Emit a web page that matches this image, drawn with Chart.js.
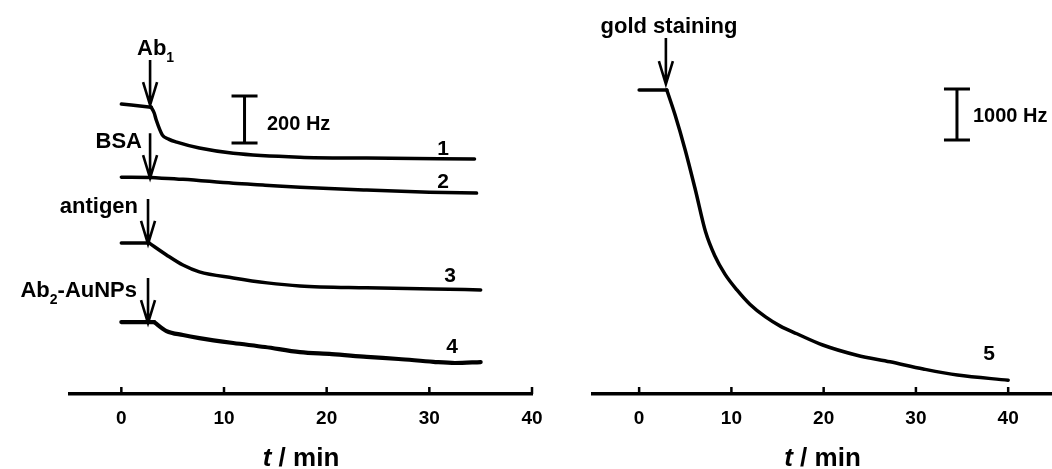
<!DOCTYPE html>
<html>
<head>
<meta charset="utf-8">
<script src="https://cdn.jsdelivr.net/npm/chart.js@4.4.1/dist/chart.umd.min.js"></script>
<style>
    body { margin: 0; background: #fff; }
    #wrap { position: relative; width: 1052px; height: 469px; overflow: hidden; }
    canvas { position: absolute; top: 0; }
</style>
</head>
<body>
<div id="wrap">
    <canvas id="leftChart" width="560" height="469" style="left:0"></canvas>
    <canvas id="rightChart" width="492" height="469" style="left:560px"></canvas>
</div>
<script>
const fuente = "'Liberation Sans', Arial, Helvetica, sans-serif";

// Marcas del eje de tiempo (min)
const xTicks = [0, 10, 20, 30, 40];

// Panel izquierdo: desplazamiento de frecuencia (Hz) frente al tiempo (min)
const t1 = [0, 2.9, 3.2, 3.4, 4.0, 4.6, 5.4, 7.6, 10.9, 17.4, 23.9, 34.4];
const df1 = [0, -13, -38, -68, -132, -149, -162, -187, -209, -226, -230, -234];

const t2 = [0, 2.9, 6.0, 10.9, 14.0, 17.4, 23.9, 30.0, 34.6];
const df2 = [0, -2, -9, -26, -34, -43, -55, -64, -68];

const t3 = [0, 2.7, 4.4, 6.0, 7.6, 10.9, 14.2, 17.4, 23.9, 30.4, 35.0];
const df3 = [0, 0, -51, -94, -123, -149, -170, -183, -191, -196, -200];

const t4 = [0, 3.2, 4.4, 6.0, 7.6, 10.9, 14.0, 17.4, 20.5, 23.9, 27.0, 30.4, 32.5, 35.0];
const df4 = [0, 0, -38, -55, -68, -89, -106, -128, -136, -148, -157, -169, -174, -170];

const curveNames = ['1', '2', '3', '4'];
const curveOffsets = [0, -311, -591, -928];   // separación vertical entre curvas (Hz)
const injectTimes = [2.8, 2.8, 2.6, 2.6];     // momento de cada inyección (min)

// Panel derecho: tinción con oro
const t5 = [0, 3.0, 3.9, 5.0, 6.1, 7.2, 8.2, 9.3, 10.6, 12.0, 13.7, 15.3, 17.1, 19.9, 23.6, 27.2, 30.8, 34.5, 40];
const df5 = [0, 0, -490, -1180, -1960, -2780, -3250, -3610, -3920, -4200, -4450, -4630, -4780, -5000, -5200, -5330, -5470, -5590, -5690];
const injectTime5 = 2.9;

// Barras de escala (Hz)
const scaleBarLeft = 200;
const scaleBarRight = 1000;

function toPoints(ts, ys, offset) {
    return ts.map(function (t, i) { return { x: t, y: ys[i] + offset }; });
}

// Parte la curva en el punto de inyección para dejar la esquina marcada
function splitAt(points, k) {
    return [points.slice(0, k + 1), points.slice(k)];
}

// Dibuja texto con subíndices: parts = [[texto, esSubindice], ...]
function drawRich(ctx, parts, x, y, size, align) {
    let total = 0;
    parts.forEach(function (p) {
        ctx.font = 'bold ' + (p[1] ? Math.round(size * 0.65) : size) + 'px ' + fuente;
        total += ctx.measureText(p[0]).width;
    });
    let cx = align === 'right' ? x - total : (align === 'center' ? x - total / 2 : x);
    ctx.textAlign = 'left';
    ctx.textBaseline = 'alphabetic';
    parts.forEach(function (p) {
        ctx.font = 'bold ' + (p[1] ? Math.round(size * 0.65) : size) + 'px ' + fuente;
        ctx.fillText(p[0], cx, p[1] ? y + size * 0.3 : y);
        cx += ctx.measureText(p[0]).width;
    });
}

function drawArrow(ctx, x, tip, len) {
    ctx.save();
    ctx.strokeStyle = '#000';
    ctx.lineWidth = 2.6;
    ctx.beginPath();
    ctx.moveTo(x, tip - len);
    ctx.lineTo(x, tip);
    ctx.moveTo(x - 7, tip - 23);
    ctx.lineTo(x, tip);
    ctx.lineTo(x + 7, tip - 23);
    ctx.stroke();
    ctx.restore();
}

function drawScaleBar(ctx, x, top, bottom) {
    ctx.save();
    ctx.strokeStyle = '#000';
    ctx.lineWidth = 3;
    ctx.beginPath();
    ctx.moveTo(x, top); ctx.lineTo(x, bottom);
    ctx.moveTo(x - 13, top); ctx.lineTo(x + 13, top);
    ctx.moveTo(x - 13, bottom); ctx.lineTo(x + 13, bottom);
    ctx.stroke();
    ctx.restore();
}

// Marcas hacia dentro del eje y título "t / min"
const axisPlugin = {
    id: 'axisPlugin',
    afterDraw: function (chart) {
        const ctx = chart.ctx;
        const xs = chart.scales.x;
        const area = chart.chartArea;
        ctx.save();
        ctx.strokeStyle = '#000';
        ctx.lineWidth = 2.5;
        ctx.beginPath();
        xTicks.forEach(function (v) {
            const px = xs.getPixelForValue(v);
            ctx.moveTo(px, area.bottom);
            ctx.lineTo(px, area.bottom - 7);
        });
        ctx.stroke();

        ctx.fillStyle = '#000';
        ctx.textBaseline = 'alphabetic';
        ctx.textAlign = 'left';
        ctx.font = 'italic bold 26px ' + fuente;
        const wT = ctx.measureText('t').width;
        ctx.font = 'bold 26px ' + fuente;
        const wR = ctx.measureText(' / min').width;
        const x0 = (area.left + area.right) / 2 - (wT + wR) / 2;
        ctx.font = 'italic bold 26px ' + fuente;
        ctx.fillText('t', x0, 466);
        ctx.font = 'bold 26px ' + fuente;
        ctx.fillText(' / min', x0 + wT, 466);
        ctx.restore();
    }
};

const leftNotes = {
    id: 'leftNotes',
    afterDraw: function (chart) {
        const ctx = chart.ctx;
        const xs = chart.scales.x;
        const ys = chart.scales.y;
        ctx.save();
        ctx.fillStyle = '#000';
        injectTimes.forEach(function (t, i) {
            drawArrow(ctx, xs.getPixelForValue(t), ys.getPixelForValue(curveOffsets[i]) + 1, 45);
        });
        drawRich(ctx, [['Ab', false], ['1', true]], 137, 55, 22, 'left');
        drawRich(ctx, [['BSA', false]], 142, 148, 22, 'right');
        drawRich(ctx, [['antigen', false]], 138, 213, 22, 'right');
        drawRich(ctx, [['Ab', false], ['2', true], ['-AuNPs', false]], 137, 297, 22, 'right');

        drawScaleBar(ctx, xs.getPixelForValue(12.0), ys.getPixelForValue(34), ys.getPixelForValue(34 - scaleBarLeft));
        drawRich(ctx, [[scaleBarLeft + ' Hz', false]], 267, 130, 20, 'left');

        const namePos = [[443, 155], [443, 188], [450, 282], [452, 353]];
        curveNames.forEach(function (n, i) {
            drawRich(ctx, [[n, false]], namePos[i][0], namePos[i][1], 21, 'center');
        });
        ctx.restore();
    }
};

const rightNotes = {
    id: 'rightNotes',
    afterDraw: function (chart) {
        const ctx = chart.ctx;
        const xs = chart.scales.x;
        const ys = chart.scales.y;
        ctx.save();
        ctx.fillStyle = '#000';
        drawArrow(ctx, xs.getPixelForValue(injectTime5), ys.getPixelForValue(0) - 6, 46);
        drawRich(ctx, [['gold staining', false]], 109, 33, 22, 'center');
        drawScaleBar(ctx, xs.getPixelForValue(34.45), ys.getPixelForValue(20), ys.getPixelForValue(20 - scaleBarRight));
        drawRich(ctx, [[scaleBarRight + ' Hz', false]], 413, 122, 20, 'left');
        drawRich(ctx, [['5', false]], 429, 360, 21, 'center');
        ctx.restore();
    }
};

function xAxis(max) {
    return {
        type: 'linear',
        min: -5,
        max: max,
        afterBuildTicks: function (s) { s.ticks = xTicks.map(function (v) { return { value: v }; }); },
        afterFit: function (s) { s.height = 75; },
        grid: { display: false, drawTicks: false },
        border: { display: true, color: '#000', width: 3.5 },
        ticks: {
            color: '#000',
            padding: 13,
            maxRotation: 0,
            autoSkip: false,
            font: { family: fuente, size: 19, weight: 'bold' }
        }
    };
}

function lineSet(points, width) {
    return {
        data: points,
        borderColor: '#000',
        borderWidth: width,
        borderCapStyle: 'round',
        borderJoinStyle: 'round',
        pointRadius: 0,
        fill: false,
        cubicInterpolationMode: 'monotone'
    };
}

document.addEventListener('DOMContentLoaded', function () {
    const seriesT = [t1, t2, t3, t4];
    const seriesDf = [df1, df2, df3, df4];
    const widths = [3.5, 3.5, 3.5, 4.2];

    // Cada curva: tramo previo (plano) y tramo tras la inyección
    const leftSets = [];
    seriesT.forEach(function (ts, i) {
        const k = ts.findIndex(function (t) { return t >= injectTimes[i]; });
        splitAt(toPoints(ts, seriesDf[i], curveOffsets[i]), k).forEach(function (part) {
            leftSets.push(lineSet(part, widths[i]));
        });
    });

    new Chart(document.getElementById('leftChart'), {
        type: 'line',
        data: { datasets: leftSets },
        options: {
            responsive: false,
            animation: false,
            layout: { padding: { left: 70, right: 28, top: 0, bottom: 0 } },
            plugins: { legend: { display: false }, tooltip: { enabled: false } },
            scales: {
                x: xAxis(40),
                y: { display: false, min: -1234, max: 443 }
            }
        },
        plugins: [axisPlugin, leftNotes]
    });

    const k5 = t5.findIndex(function (t) { return t >= injectTime5; });
    new Chart(document.getElementById('rightChart'), {
        type: 'line',
        data: {
            datasets: splitAt(toPoints(t5, df5, 0), k5).map(function (part) {
                return lineSet(part, 3.5);
            })
        },
        options: {
            responsive: false,
            animation: false,
            layout: { padding: { left: 33, right: 0, top: 0, bottom: 0 } },
            plugins: { legend: { display: false }, tooltip: { enabled: false } },
            scales: {
                x: xAxis(44.75),
                y: { display: false, min: -5961, max: 1765 }
            }
        },
        plugins: [axisPlugin, rightNotes]
    });
});
</script>
</body>
</html>
